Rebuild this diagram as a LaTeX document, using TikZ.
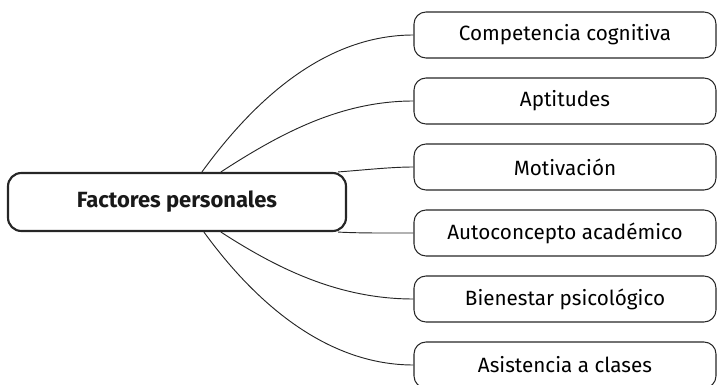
\documentclass[tikz,border=0pt]{standalone}
\usepackage{fontspec}
\setmainfont{Fira Sans}
\usetikzlibrary{calc}
\begin{document}
\begin{tikzpicture}[x=0.75pt,y=-0.75pt,
  mainbox/.style={draw=black!85, line width=1.6pt, rounded corners=10pt,
    minimum width=338*0.75pt, minimum height=58*0.75pt, inner sep=0pt,
    font=\fontsize{16.5pt}{19pt}\selectfont\bfseries, text=black!90},
  itembox/.style={draw=black!85, line width=0.8pt, rounded corners=9pt,
    minimum width=302*0.75pt, minimum height=46*0.75pt, inner sep=0pt,
    font=\fontsize{15.5pt}{18pt}\selectfont, text=black},
  link/.style={draw=black!85, line width=0.7pt}]
\useasboundingbox (0,0) rectangle (719,385);
\clip (0,0) rectangle (719,385);

\node[mainbox] (m) at (177,202) {Factores personales};

\node[itembox] (b1) at (565,35)  {Competencia cognitiva};
\node[itembox] (b2) at (565,101) {Aptitudes};
\node[itembox] (b3) at (565,167) {Motivación};
\node[itembox] (b4) at (565,233) {Autoconcepto académico};
\node[itembox] (b5) at (565,299) {Bienestar psicológico};
\node[itembox] (b6) at (565,365) {Asistencia a clases};

% connectors fanning out from the central box
\coordinate (t1) at ($(m.north west)+(195,0)$);
\coordinate (t2) at ($(m.north west)+(214,0)$);
\coordinate (t3) at ($(m.north east)+(-9,0)$);
\coordinate (s3) at ($(m.south east)+(-9,0)$);
\coordinate (s2) at ($(m.south west)+(214,0)$);
\coordinate (s1) at ($(m.south west)+(197,0)$);

\draw[link] (t1) to[out=54,in=180,looseness=0.9] (b1.west);
\draw[link] (t2) to[out=33,in=180,looseness=0.9] (b2.west);
\draw[link] (t3) to[out=4,in=180,looseness=0.8] (b3.west);
\draw[link] (s3) to[out=-3,in=180,looseness=0.8] (b4.west);
\draw[link] (s2) to[out=-33,in=180,looseness=0.9] (b5.west);
\draw[link] (s1) to[out=-54,in=180,looseness=0.9] (b6.west);
\end{tikzpicture}
\end{document}
